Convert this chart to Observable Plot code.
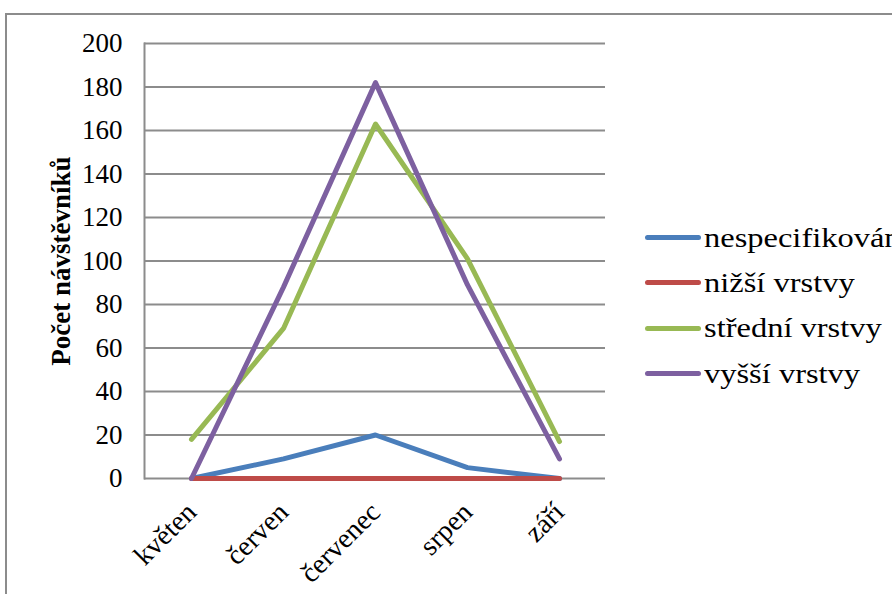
<!DOCTYPE html>
<html>
<head>
<meta charset="utf-8">
<script src="https://cdn.jsdelivr.net/npm/d3@7"></script>
<script src="https://cdn.jsdelivr.net/npm/@observablehq/plot@0.6"></script>
<style>
  html, body { margin: 0; padding: 0; background: #fff; }
  #wrap { position: relative; width: 892px; height: 594px; overflow: hidden; }
  #border { position: absolute; left: 5px; top: 13px; width: 900px; height: 600px; border-top: 2px solid #8c8c8c; border-left: 2px solid #8c8c8c; box-sizing: border-box; }
  #chart { position: absolute; left: 0; top: 0; }
  #legend { position: absolute; left: 645px; top: 215px; color: #000; }
  .item { display: flex; align-items: center; height: 45.3px; white-space: nowrap; }
  .sw { width: 56px; height: 5px; border-radius: 2.5px; margin-right: 3px; flex: none; }
  .lt { display: inline-block; transform: scaleX(1.16); transform-origin: left center; }
</style>
</head>
<body>
<div id="wrap" style="font-family:'Liberation Serif', serif">
  <div id="border"></div>
  <div id="chart" style="font-family:'Liberation Serif', serif"></div>
  <div id="legend" style="font-family:'Liberation Serif', serif; font-size:28px"></div>
</div>
<script>
const months = ["květen", "červen", "červenec", "srpen", "září"].map(s => s.normalize("NFC"));
const seriesNames = ["nespecifikováno", "nižší vrstvy", "střední vrstvy", "vyšší vrstvy"].map(s => s.normalize("NFC"));
const seriesColors = ["#4a7ebb", "#be4b48", "#98b954", "#7d60a0"];
const nespecifikovano = [0, 9, 20, 5, 0];
const nizsiVrstvy = [0, 0, 0, 0, 0];
const stredniVrstvy = [18, 69, 163, 101, 17];
const vyssiVrstvy = [0, 88, 182, 89, 9];
const yTicks = [0, 20, 40, 60, 80, 100, 120, 140, 160, 180, 200];
const yTitle = "Počet návštěvníků".normalize("NFC");

const allValues = [nespecifikovano, nizsiVrstvy, stredniVrstvy, vyssiVrstvy];
const data = [];
allValues.forEach((vals, si) => {
  vals.forEach((v, mi) => data.push({series: seriesNames[si], month: months[mi], value: v}));
});

const plot = Plot.plot({
  width: 892,
  height: 594,
  marginLeft: 144,
  marginRight: 287,
  marginTop: 43,
  marginBottom: 116,
  style: {fontSize: "27px", color: "#000", background: "transparent"},
  x: {type: "point", domain: months, padding: 0.5, label: null},
  y: {domain: [0, 200], label: null},
  color: {domain: seriesNames, range: seriesColors},
  marks: [
    Plot.gridY(yTicks, {stroke: "#8c8c8c", strokeOpacity: 1, strokeWidth: 2}),
    Plot.frame({anchor: "left", stroke: "#8c8c8c", strokeWidth: 2}),
    Plot.axisY(yTicks, {tickSize: 0, tickPadding: 22, fontSize: 27, label: null}),
    Plot.axisX({tickSize: 0, tickRotate: -45, textAnchor: "end", fontSize: 28, tickPadding: 29, dx: 0, label: null}),
    Plot.text([yTitle], {frameAnchor: "left", textAnchor: "middle", dx: -83, rotate: -90, fontWeight: "bold", fontSize: 27}),
    Plot.line(data, {x: "month", y: "value", z: "series", stroke: "series", strokeWidth: 5, strokeLinecap: "round", strokeLinejoin: "round"})
  ]
});
plot.removeAttribute("font-family");
plot.style.removeProperty("font-family");
plot.style.removeProperty("font");
plot.style.fontSize = "27px";
document.getElementById("chart").appendChild(plot);

const legend = document.getElementById("legend");
seriesNames.forEach((n, i) => {
  const item = document.createElement("div");
  item.className = "item";
  const sw = document.createElement("div");
  sw.className = "sw";
  sw.style.background = seriesColors[i];
  const t = document.createElement("span");
  t.className = "lt";
  t.textContent = n;
  item.appendChild(sw);
  item.appendChild(t);
  legend.appendChild(item);
});
</script>
</body>
</html>
